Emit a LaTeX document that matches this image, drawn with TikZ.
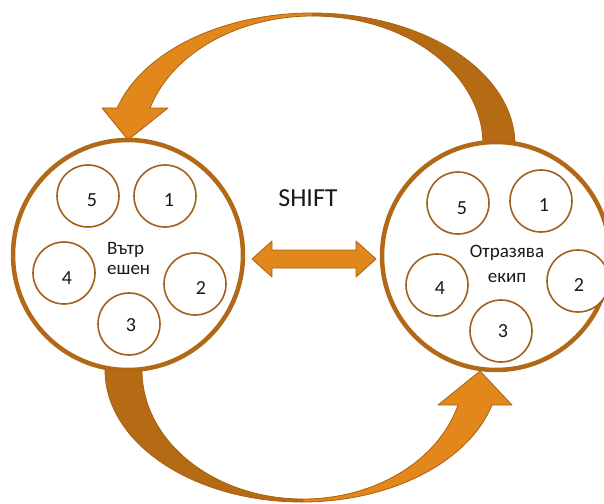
\documentclass[tikz,border=0pt]{standalone}
\usepackage{fontspec}
\setmainfont{Carlito}
\definecolor{orangeL}{RGB}{226,135,28}
\definecolor{orangeD}{RGB}{181,106,20}
\definecolor{edgeC}{RGB}{168,98,18}
\definecolor{ringC}{RGB}{178,104,22}
\definecolor{smallC}{RGB}{160,96,30}
\begin{document}
\begin{tikzpicture}[x=1pt,y=1pt,
  bigring/.style={circle, draw=ringC, line width=4.5pt, fill=white, inner sep=0pt},
  smallring/.style={circle, draw=smallC, line width=1.6pt, fill=white, minimum size=62pt, inner sep=0pt},
  digit/.style={font=\fontsize{20}{24}\selectfont, inner sep=0pt, text=black!90},
  caption/.style={font=\fontsize{19}{22}\selectfont, inner sep=0pt, text=black!90},
  backband/.style={fill=orangeD, draw=edgeC, line width=0.8pt, line join=round},
  frontband/.style={fill=orangeL, draw=edgeC, line width=0.8pt, line join=round}]
\clip (0,-503) rectangle (604,0);

% upper curved arrow: back band rising from the right ring, front band with head
\path[backband] (483,-150) -- (483,-145)
  arc[start angle=0, end angle=90, x radius=170pt, y radius=129pt]
  -- (312,-13)
  arc[start angle=90, end angle=0, x radius=203pt, y radius=132pt]
  -- (515,-150) -- cycle;
\path[frontband] (312,-13)
  arc[start angle=90, end angle=163.7, x radius=203pt, y radius=132pt]
  -- (102,-108) -- (128,-140) -- (168,-108) -- (150.1,-108)
  arc[start angle=163.33, end angle=90, x radius=170pt, y radius=129pt]
  -- cycle;

% lower curved arrow: back band leaving the left ring, front band with head
\path[backband] (105,-360) -- (105,-370)
  arc[start angle=180, end angle=270, x radius=197pt, y radius=132pt]
  -- (303,-499)
  arc[start angle=270, end angle=180, x radius=161pt, y radius=129pt]
  -- (142,-360) -- cycle;
\path[frontband] (302,-502)
  arc[start angle=270, end angle=344.62, x radius=197pt, y radius=132pt]
  -- (512,-405) -- (480,-371) -- (438,-405) -- (458,-405)
  arc[start angle=344.26, end angle=270, x radius=161pt, y radius=129pt]
  -- cycle;

% the two teams
\node[bigring, minimum size=230pt] (left) at (128,-255) {};
\node[bigring, minimum size=228pt] (right) at (496,-256) {};

% members of the left team
\node[smallring] (L5) at (88,-196) {};
\node[smallring] (L1) at (165,-196) {};
\node[smallring] (L4) at (64,-273) {};
\node[smallring] (L2) at (195,-284) {};
\node[smallring] (L3) at (129,-324) {};
\node[digit] (L5n) at (92,-200) {5};
\node[digit] (L1n) at (169,-200) {1};
\node[digit] (L4n) at (67,-278) {4};
\node[digit] (L2n) at (201,-288) {2};
\node[digit] (L3n) at (131,-325) {3};
\node[caption, anchor=base west] (Lt1) at (107,-254) {Вътр};
\node[caption, anchor=base west] (Lt2) at (107,-274) {ешен};

% members of the right team
\node[smallring] (R5) at (458,-203) {};
\node[smallring] (R1) at (541,-201) {};
\node[smallring] (R4) at (437,-285) {};
\node[smallring] (R2) at (578,-281) {};
\node[smallring] (R3) at (501,-331) {};
\node[digit] (R5n) at (462,-208) {5};
\node[digit] (R1n) at (544,-205) {1};
\node[digit] (R4n) at (440,-288) {4};
\node[digit] (R2n) at (579,-285) {2};
\node[digit] (R3n) at (503,-331) {3};
\node[caption, anchor=base] (Rt1) at (507,-257) {Отразява};
\node[caption, anchor=base] (Rt2) at (507,-282) {екип};

% shift label and two-way arrow between the teams
\node[font=\fontsize{26}{30}\selectfont, inner sep=0pt, text=black!90] (shift) at (308,-198) {SHIFT};
\path[frontband] (252,-259) -- (272,-241) -- (272,-250) -- (356,-250) -- (356,-241)
  -- (376,-259) -- (356,-277) -- (356,-268) -- (272,-268) -- (272,-277) -- cycle;
\end{tikzpicture}
\end{document}
